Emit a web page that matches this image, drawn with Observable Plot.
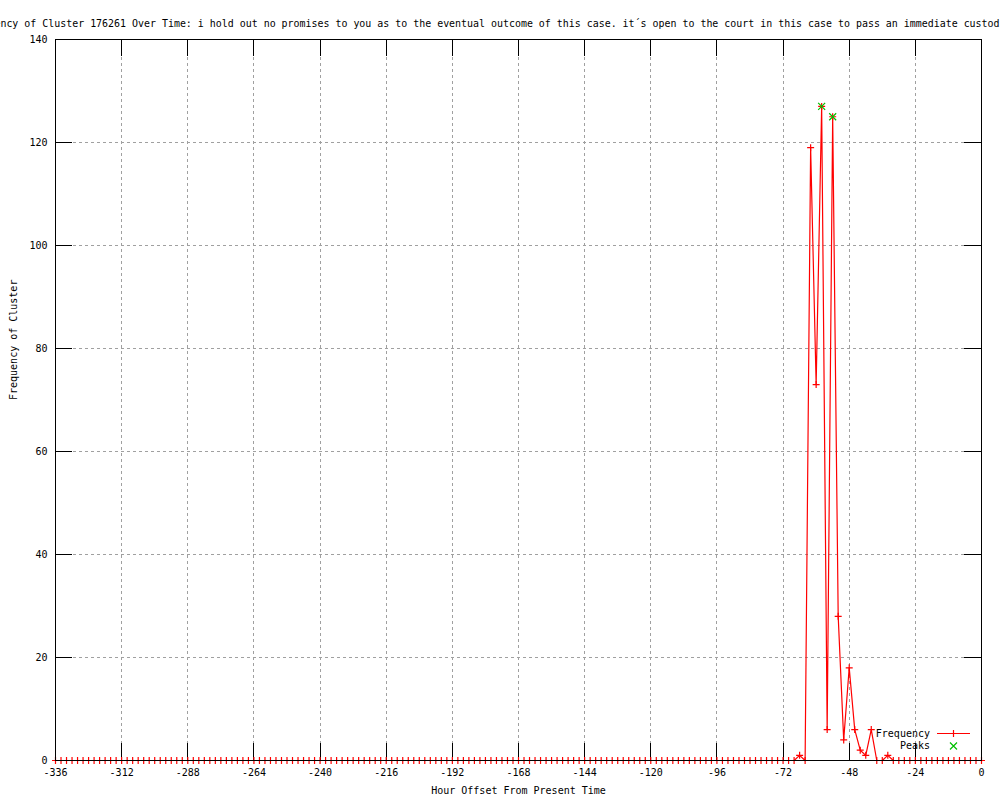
<!DOCTYPE html>
<html><head><meta charset="utf-8">
<script src="https://cdn.jsdelivr.net/npm/d3@7"></script>
<script src="https://cdn.jsdelivr.net/npm/@observablehq/plot@0.6"></script>
<style>
body{margin:0;background:#fff;}
#wrap{position:relative;width:1000px;height:800px;overflow:hidden;}
#wrap svg{display:block;}
#legend{position:absolute;left:0;top:0;pointer-events:none;}
</style></head><body><div id="wrap"></div>
<script>
const titleText = "Frequency of Cluster 176261 Over Time: i hold out no promises to you as to the eventual outcome of this case. it´s open to the court in this case to pass an immediate custodial sentence";
const xLabel = "Hour Offset From Present Time";
const yLabel = "Frequency of Cluster";
const legendLabels = ["Frequency", "Peaks"];

const hours = [
-336,-334,-332,-330,-328,-326,-324,-322,-320,-318,-316,-314,
-312,-310,-308,-306,-304,-302,-300,-298,-296,-294,-292,-290,
-288,-286,-284,-282,-280,-278,-276,-274,-272,-270,-268,-266,
-264,-262,-260,-258,-256,-254,-252,-250,-248,-246,-244,-242,
-240,-238,-236,-234,-232,-230,-228,-226,-224,-222,-220,-218,
-216,-214,-212,-210,-208,-206,-204,-202,-200,-198,-196,-194,
-192,-190,-188,-186,-184,-182,-180,-178,-176,-174,-172,-170,
-168,-166,-164,-162,-160,-158,-156,-154,-152,-150,-148,-146,
-144,-142,-140,-138,-136,-134,-132,-130,-128,-126,-124,-122,
-120,-118,-116,-114,-112,-110,-108,-106,-104,-102,-100,-98,
-96,-94,-92,-90,-88,-86,-84,-82,-80,-78,-76,-74,
-72,-70,-68,-66,-64,-62,-60,-58,-56,-54,-52,-50,
-48,-46,-44,-42,-40,-38,-36,-34,-32,-30,-28,-26,
-24,-22,-20,-18,-16,-14,-12,-10,-8,-6,-4,-2,
0];

const frequency = [
0,0,0,0,0,0,0,0,0,0,0,0,
0,0,0,0,0,0,0,0,0,0,0,0,
0,0,0,0,0,0,0,0,0,0,0,0,
0,0,0,0,0,0,0,0,0,0,0,0,
0,0,0,0,0,0,0,0,0,0,0,0,
0,0,0,0,0,0,0,0,0,0,0,0,
0,0,0,0,0,0,0,0,0,0,0,0,
0,0,0,0,0,0,0,0,0,0,0,0,
0,0,0,0,0,0,0,0,0,0,0,0,
0,0,0,0,0,0,0,0,0,0,0,0,
0,0,0,0,0,0,0,0,0,0,0,0,
0,0,0,1,0,119,73,127,6,125,28,4,
18,6,2,1,6,0,0,1,0,0,0,0,
0,0,0,0,0,0,0,0,0,0,0,0,
0];

const peakHours = [-58, -54];
const peakValues = [127, 125];

const xTicks = [-336,-312,-288,-264,-240,-216,-192,-168,-144,-120,-96,-72,-48,-24,0];
const yTicks = [0,20,40,60,80,100,120,140];

const series = hours.map((h, i) => ({hour: h, freq: frequency[i]}));
const peaks = peakHours.map((h, i) => ({hour: h, freq: peakValues[i]}));

const plusSymbol = {draw(ctx, size) { const r = Math.sqrt(size / Math.PI); ctx.moveTo(-r, 0); ctx.lineTo(r, 0); ctx.moveTo(0, -r); ctx.lineTo(0, r); }};
const timesSymbol = {draw(ctx, size) { const r = Math.sqrt(size / Math.PI); ctx.moveTo(-r, -r); ctx.lineTo(r, r); ctx.moveTo(r, -r); ctx.lineTo(-r, r); }};

const W = 1000, H = 800, ML = 55, MR = 19, MT = 39, MB = 40;
const FW = W - ML - MR, FH = H - MT - MB;
const TICK = 17;
const font = "'DejaVu Sans Mono', 'Liberation Mono', monospace";
const RED = "#ff0000", GREEN = "#00c000", GRID = "#a0a0a0";
const crisp = {shapeRendering: "crispEdges"};

const chart = Plot.plot({
  width: W, height: H,
  marginLeft: ML, marginRight: MR, marginTop: MT, marginBottom: MB,
  style: {fontFamily: font, fontSize: "10px", background: "#fff", color: "#000", overflow: "hidden"},
  x: {domain: [-336, 0]},
  y: {domain: [0, 140]},
  marks: [
    Plot.gridX(xTicks, {stroke: GRID, strokeOpacity: 1, strokeDasharray: "3,3", ...crisp}),
    Plot.gridY(yTicks, {stroke: GRID, strokeOpacity: 1, strokeDasharray: "3,3", ...crisp}),
    Plot.tickX(xTicks, {x: d => d, insetTop: FH - TICK, stroke: "#000", ...crisp}),
    Plot.tickX(xTicks, {x: d => d, insetBottom: FH - TICK, stroke: "#000", ...crisp}),
    Plot.tickY(yTicks, {y: d => d, insetRight: FW - TICK, stroke: "#000", ...crisp}),
    Plot.tickY(yTicks, {y: d => d, insetLeft: FW - TICK, stroke: "#000", ...crisp}),
    Plot.axisX(xTicks, {tickSize: 0, tickPadding: 8, tickFormat: d => String(d), label: null, fontSize: 10}),
    Plot.axisY(yTicks, {tickSize: 0, tickPadding: 8, tickFormat: d => String(d), label: null, fontSize: 10}),
    Plot.line(series, {x: "hour", y: "freq", stroke: RED, strokeWidth: 1.2}),
    Plot.dot(series, {x: "hour", y: "freq", symbol: plusSymbol, r: 3.5, stroke: RED, fill: "none", strokeWidth: 1.2}),
    Plot.dot(peaks, {x: "hour", y: "freq", symbol: timesSymbol, r: 3.5, stroke: GREEN, fill: "none", strokeWidth: 1.2}),
    Plot.frame({stroke: "#000", ...crisp}),
    Plot.text([titleText], {text: d => d, frameAnchor: "top-left", textAnchor: "start", dx: -ML - 36, dy: -20, fontSize: 9.95}),
    Plot.text([xLabel], {text: d => d, frameAnchor: "bottom", dy: 33, fontSize: 10}),
    Plot.text([yLabel], {text: d => d, frameAnchor: "left", rotate: -90, dx: -42, fontSize: 10})
  ]
});
document.getElementById("wrap").appendChild(chart);

// Legend overlay
const lg = d3.select("#wrap").append("svg").attr("id", "legend").attr("width", W).attr("height", H)
  .style("font-family", font).style("font-size", "10px");
const rows = [
  {label: legendLabels[0], y: 733, color: RED, sym: "plus", line: true},
  {label: legendLabels[1], y: 745.5, color: GREEN, sym: "times", line: false}
];
rows.forEach(r => {
  lg.append("text").attr("x", 930).attr("y", r.y).attr("dy", "0.35em").attr("text-anchor", "end").attr("fill", "#000").text(r.label);
  if (r.line) lg.append("line").attr("x1", 937).attr("x2", 970).attr("y1", r.y + 0.5).attr("y2", r.y + 0.5).attr("stroke", r.color).attr("stroke-width", 1.2);
  const s = r.sym === "plus" ? "M-3.5,0L3.5,0M0,-3.5L0,3.5" : "M-3.5,-3.5L3.5,3.5M3.5,-3.5L-3.5,3.5";
  lg.append("path").attr("d", s).attr("transform", `translate(953.5,${r.y + 0.5})`).attr("stroke", r.color).attr("stroke-width", 1.2).attr("fill", "none");
});
</script>
</body></html>
